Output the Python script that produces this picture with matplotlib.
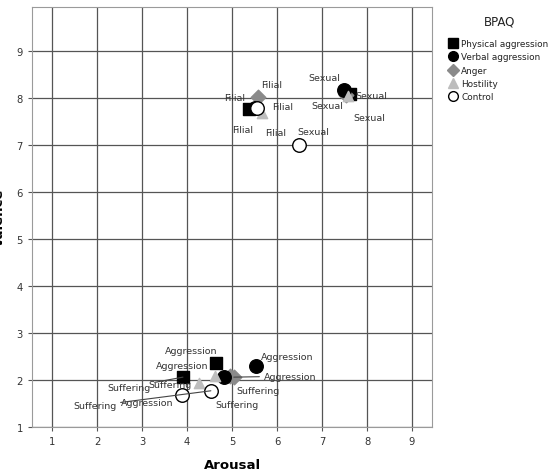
import matplotlib.pyplot as plt
from matplotlib.lines import Line2D

# data: one value per category
categories = ['Filial', 'Sexual', 'Aggression', 'Suffering']
groups = ['Physical aggression', 'Verbal aggression', 'Anger', 'Hostility', 'Control']

physical_arousal = [5.38, 7.62, 4.64, 3.91]
physical_valence = [7.77, 8.09, 2.36, 2.06]
verbal_arousal = [5.50, 7.49, 5.53, 4.82]
verbal_valence = [7.78, 8.17, 2.30, 2.06]
anger_arousal = [5.58, 7.53, 5.04, 4.95]
anger_valence = [8.02, 8.06, 2.06, 2.08]
hostility_arousal = [5.67, 7.58, 4.62, 4.27]
hostility_valence = [7.68, 8.03, 2.09, 1.94]
control_arousal = [5.56, 6.49, 3.89, 4.53]
control_valence = [7.79, 7.00, 1.68, 1.77]

arousal = [physical_arousal, verbal_arousal, anger_arousal, hostility_arousal, control_arousal]
valence = [physical_valence, verbal_valence, anger_valence, hostility_valence, control_valence]

# styles
markers = ['s', 'o', 'D', '^', 'o']
faces = ['black', 'black', '#8a8a8a', '#bdbdbd', 'white']
edges = ['black', 'black', '#8a8a8a', '#bdbdbd', 'black']
sizes = [80, 95, 55, 55, 95]
zorders = [3, 5, 4, 6, 7]

# label offsets in pixels (repel-style placement)
label_dx = [[-14, 21, -25, -54],
            [-12, -20, 31, 13],
            [14, -19, 56, 28],
            [13, 21, -33, -29],
            [25, 14, -35, -116]]
label_dy = [[11, -2, 13, -10],
            [-21, 12, 9, -27],
            [12, -11, 1, -14],
            [-20, -21, 10, -2],
            [1, 13, -7, -15]]

fig = plt.figure(figsize=(5.6, 4.77), dpi=100)
ax = fig.add_axes([32 / 560, 1 - 428 / 477, 400 / 560, 420 / 477])

for g in range(len(groups)):
    ax.scatter(arousal[g], valence[g], marker=markers[g], s=sizes[g],
               facecolors=faces[g], edgecolors=edges[g], linewidths=1.0,
               zorder=zorders[g])
    for c in range(len(categories)):
        dx, dy = label_dx[g][c], label_dy[g][c]
        far = (dx ** 2 + dy ** 2) ** 0.5 > 45
        ax.annotate(categories[c], (arousal[g][c], valence[g][c]),
                    xytext=(dx, dy), textcoords='offset pixels',
                    ha='center', va='center', fontsize=6.8, color='#333333',
                    zorder=8,
                    arrowprops=dict(arrowstyle='-', color='#444444', lw=0.8,
                                    shrinkA=1, shrinkB=0) if far else None)

ax.set_xlim(0.556, 9.444)
ax.set_ylim(1, 9.93)
ax.set_xticks(range(1, 10))
ax.set_yticks(range(1, 10))
ax.grid(True, color='#555555', lw=0.9)
ax.set_axisbelow(True)
for s in ax.spines.values():
    s.set_color('#9a9a9a')
ax.tick_params(colors='#555555', labelcolor='#333333', labelsize=7.2, length=3, width=0.8)

ax.set_xlabel('Arousal', fontsize=9.5, fontweight='bold')
ax.xaxis.set_label_coords(0.5, -0.075)
ax.set_ylabel('Valence', fontsize=9.5, fontweight='bold')
ax.yaxis.set_label_coords(-0.065, 0.5)

handles = [Line2D([], [], ls='none', marker=markers[g], markersize=7 if g != 2 else 6,
                  markerfacecolor=faces[g], markeredgecolor=edges[g])
           for g in range(len(groups))]
fig.text(500 / 560, 1 - 22 / 477, 'BPAQ', ha='center', va='center', fontsize=8.5, color='#222222')
leg = fig.legend(handles, groups, loc='upper left', bbox_to_anchor=(443 / 560, 1 - 34 / 477),
                 frameon=False, fontsize=6.4,
                 handlelength=0.8, handletextpad=0.55, labelspacing=0.48, borderpad=0.2)
for t in leg.get_texts():
    t.set_color('#222222')

fig.savefig('out.png', dpi=100)
